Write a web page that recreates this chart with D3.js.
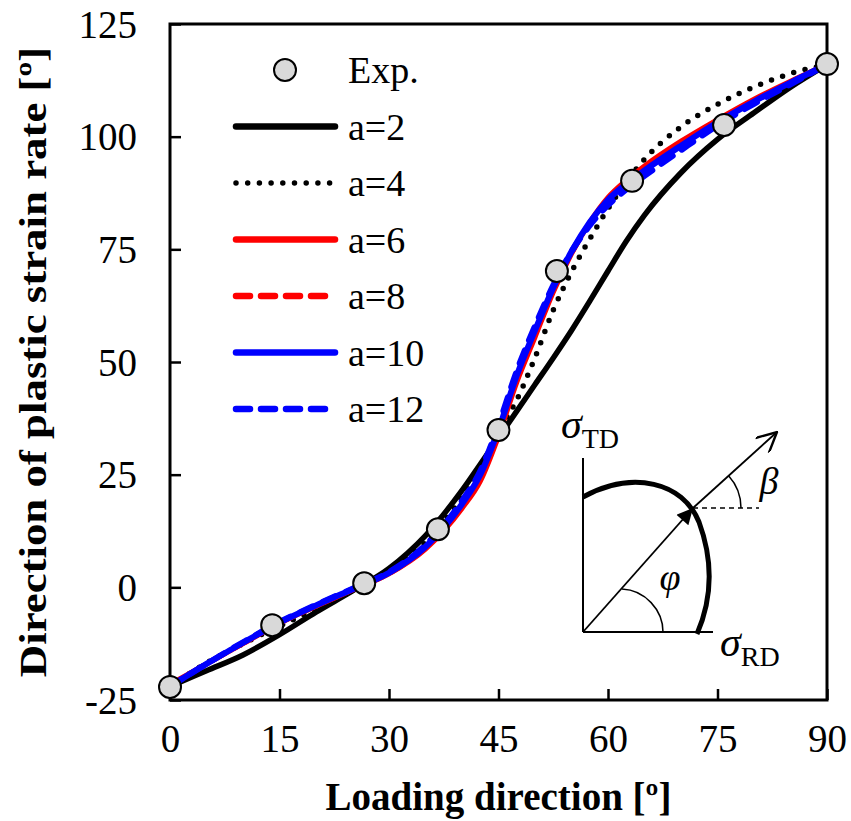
<!DOCTYPE html>
<html>
<head>
<meta charset="utf-8">
<script src="https://cdn.jsdelivr.net/npm/d3@7"></script>
<style>
  body { margin: 0; background: #fff; }
  svg text { font-family: "Liberation Serif", "Times New Roman", serif; fill: #000; }
</style>
</head>
<body>
<div id="chart"></div>
<script>
// loading direction grid used by all model curves
var angles = [0, 5, 10, 15, 20, 25, 30, 35, 40, 42.5, 45, 47.5, 50, 52.5, 55, 57.5, 60, 62.5, 65, 70, 75, 80, 85, 90];

var a2  = [-22, -18.5, -15, -10.5, -5.5, -0.8, 4.2, 11.5, 21.5, 27.3, 33.2, 39.1, 45, 50.9, 57, 63.5, 70.2, 76.8, 82.6, 92, 99.4, 105.3, 111, 116];
var a4  = [-22, -16.8, -12.5, -8.6, -4.8, -0.8, 3.5, 10, 20, 26.5, 34.5, 41.6, 51, 61.5, 70, 77.3, 84, 90, 95, 102.2, 107.2, 111, 114, 116];
var a6  = [-21.5, -17, -12.5, -8, -4.2, -0.6, 3, 8.5, 17.5, 23.5, 33.5, 45.5, 55.5, 65.5, 74, 81, 86.5, 90.3, 93.5, 99, 103.8, 108.3, 112.3, 116];
var a8  = [-21.8, -17, -12.4, -7.9, -4.1, -0.5, 3.1, 8.8, 18, 24.3, 34.3, 46.3, 56.3, 66, 74.2, 80.8, 86, 89.8, 93, 98.5, 103.4, 108, 112.1, 116];
var a10 = [-22, -17, -12.3, -7.8, -4, -0.4, 3.2, 9, 18.5, 25, 35, 47, 57, 66.5, 74.5, 81, 86, 89.5, 92.5, 98, 103.2, 107.8, 112, 116];
var a12 = [-22, -17, -12.2, -7.7, -3.9, -0.3, 3.4, 9.4, 19.2, 25.8, 36, 48, 58, 67, 74.5, 80.3, 84.8, 88.3, 91.3, 97, 102.5, 107.3, 111.6, 116];

// experiments
var expAngle = [0, 14, 26.6, 36.7, 45, 53, 63.3, 75.9, 90];
var expValue = [-22.1, -8.4, 0.9, 12.9, 34.9, 70.2, 90.2, 102.6, 116.1];

var xTicks = [0, 15, 30, 45, 60, 75, 90];
var yTicks = [-25, 0, 25, 50, 75, 100, 125];

var seriesNames = ["a=2", "a=4", "a=6", "a=8", "a=10", "a=12"];
var seriesValues = [a2, a4, a6, a8, a10, a12];
var seriesStyle = [
  {color: "#000", width: 5.5, dash: null},
  {color: "#000", width: 5.5, dash: "0 11.7"},
  {color: "#ff0000", width: 5, dash: null},
  {color: "#ff0000", width: 5.5, dash: "14 11"},
  {color: "#0000ff", width: 6, dash: null},
  {color: "#0000ff", width: 6, dash: "14 11"}
];

var W = 851, H = 821;
var margin = {left: 170, right: 827, top: 24, bottom: 700};

var svg = d3.select("#chart").append("svg")
  .attr("width", W).attr("height", H);

var x = d3.scaleLinear().domain([0, 90]).range([margin.left, margin.right]);
var y = d3.scaleLinear().domain([-25, 125]).range([margin.bottom, margin.top]);

// frame
svg.append("rect")
  .attr("x", margin.left).attr("y", margin.top)
  .attr("width", margin.right - margin.left).attr("height", margin.bottom - margin.top)
  .attr("fill", "none").attr("stroke", "#000").attr("stroke-width", 3);

// axes with inside ticks
var plain = function(d) { return String(d); };
var xAxis = svg.append("g").attr("transform", "translate(0," + margin.bottom + ")")
  .call(d3.axisBottom(x).tickValues(xTicks).tickFormat(plain).tickSizeInner(-11).tickSizeOuter(0).tickPadding(24));
var yAxis = svg.append("g").attr("transform", "translate(" + margin.left + ",0)")
  .call(d3.axisLeft(y).tickValues(yTicks).tickFormat(plain).tickSizeInner(-11).tickSizeOuter(0).tickPadding(33));
[xAxis, yAxis].forEach(function(g) {
  g.select(".domain").remove();
  g.selectAll(".tick line").attr("stroke", "#000").attr("stroke-width", 2.5);
  g.selectAll(".tick text")
    .style("font-family", '"Liberation Serif", serif')
    .style("font-size", "39px").attr("fill", "#000");
});
xAxis.selectAll(".tick text").attr("dy", "0.71em");
yAxis.selectAll(".tick text").attr("dy", "0.34em");

// axis titles
svg.append("text")
  .attr("x", (margin.left + margin.right) / 2).attr("y", 810)
  .attr("text-anchor", "middle")
  .style("font-size", "39px").style("font-weight", "bold")
  .text("Loading direction [º]");
svg.append("text")
  .attr("transform", "translate(46," + (margin.top + margin.bottom) / 2 + ") rotate(-90) scale(1.15,1)")
  .attr("text-anchor", "middle")
  .style("font-size", "39px").style("font-weight", "bold")
  .text("Direction of plastic strain rate [º]");

// model curves
var line = d3.line()
  .x(function(d) { return x(d[0]); })
  .y(function(d) { return y(d[1]); })
  .curve(d3.curveMonotoneX);

seriesValues.forEach(function(vals, i) {
  var st = seriesStyle[i];
  svg.append("path")
    .datum(angles.map(function(a, k) { return [a, vals[k]]; }))
    .attr("d", line)
    .attr("fill", "none")
    .attr("stroke", st.color)
    .attr("stroke-width", st.width)
    .attr("stroke-linecap", "round")
    .attr("stroke-linejoin", "round")
    .attr("stroke-dasharray", st.dash);
});

// experimental points
svg.selectAll("circle.exp")
  .data(expAngle.map(function(a, k) { return [a, expValue[k]]; }))
  .enter().append("circle")
  .attr("class", "exp")
  .attr("cx", function(d) { return x(d[0]); })
  .attr("cy", function(d) { return y(d[1]); })
  .attr("r", 11)
  .attr("fill", "#d9d9d9").attr("stroke", "#000").attr("stroke-width", 2);

// legend
var lg = svg.append("g").attr("transform", "translate(233,70)");
var rowH = 56.5;
lg.append("circle").attr("cx", 52).attr("cy", 0).attr("r", 11)
  .attr("fill", "#d9d9d9").attr("stroke", "#000").attr("stroke-width", 2);
lg.append("text").attr("x", 115).attr("y", 13).style("font-size", "38px").text("Exp.");
seriesNames.forEach(function(name, i) {
  var st = seriesStyle[i];
  var yy = (i + 1) * rowH;
  lg.append("line")
    .attr("x1", 3).attr("x2", 102).attr("y1", yy).attr("y2", yy)
    .attr("stroke", st.color)
    .attr("stroke-width", i === 1 ? 5.5 : 6.5)
    .attr("stroke-linecap", "round")
    .attr("stroke-dasharray", st.dash);
  lg.append("text").attr("x", 115).attr("y", yy + 13).style("font-size", "38px").text(name);
});

// inset: yield locus sketch
var O = [583, 632];
var ins = svg.append("g").attr("transform", "translate(" + O[0] + "," + O[1] + ")");
var defs = svg.append("defs");
defs.append("marker").attr("id", "solidHead")
  .attr("viewBox", "0 0 10 10").attr("refX", 10).attr("refY", 5)
  .attr("markerWidth", 20).attr("markerHeight", 16).attr("markerUnits", "userSpaceOnUse")
  .attr("orient", "auto")
  .append("path").attr("d", "M0,0 L10,5 L0,10 Z").attr("fill", "#000");
defs.append("marker").attr("id", "openHead")
  .attr("viewBox", "0 0 10 10").attr("refX", 10).attr("refY", 5)
  .attr("markerWidth", 22).attr("markerHeight", 20).attr("markerUnits", "userSpaceOnUse")
  .attr("orient", "auto")
  .append("path").attr("d", "M0,0 L10,5 L0,10").attr("fill", "none").attr("stroke", "#000").attr("stroke-width", 1.2);

ins.append("line").attr("x1", 0).attr("y1", -174).attr("x2", 0).attr("y2", 0)
  .attr("stroke", "#000").attr("stroke-width", 2);
ins.append("line").attr("x1", 0).attr("y1", 0).attr("x2", 130).attr("y2", 0)
  .attr("stroke", "#000").attr("stroke-width", 2);
// locus
ins.append("path")
  .attr("d", "M0,-135 C50,-162 100,-150 116,-110 C130,-72 130,-35 114,2")
  .attr("fill", "none").attr("stroke", "#000").attr("stroke-width", 5);
// loading arrow
var P = [110, -124];
ins.append("line").attr("x1", 0).attr("y1", 0).attr("x2", P[0]).attr("y2", P[1])
  .attr("stroke", "#000").attr("stroke-width", 1.8).attr("marker-end", "url(#solidHead)");
ins.append("line").attr("x1", P[0]).attr("y1", P[1]).attr("x2", 194).attr("y2", -200)
  .attr("stroke", "#000").attr("stroke-width", 1.8).attr("marker-end", "url(#openHead)");
ins.append("line").attr("x1", P[0]).attr("y1", P[1]).attr("x2", 176).attr("y2", P[1])
  .attr("stroke", "#000").attr("stroke-width", 1.5).attr("stroke-dasharray", "5 4");
// beta arc
var rb = 48, ab = Math.atan2(76, 84);
ins.append("path")
  .attr("d", "M" + (P[0] + rb * Math.cos(ab)) + "," + (P[1] - rb * Math.sin(ab)) +
    " A" + rb + "," + rb + " 0 0 1 " + (P[0] + rb) + "," + P[1])
  .attr("fill", "none").attr("stroke", "#000").attr("stroke-width", 1.5);
// phi arc
ins.append("path")
  .attr("d", "M80,0 C80,-22 62,-42 39,-43")
  .attr("fill", "none").attr("stroke", "#000").attr("stroke-width", 1.5);

function sigma(xx, yy, sub) {
  var t = svg.append("text").attr("x", xx).attr("y", yy);
  t.append("tspan").style("font-size", "42px").style("font-style", "italic").text("σ");
  t.append("tspan").attr("dy", 10).style("font-size", "28px").text(sub);
}
sigma(561, 438, "TD");
sigma(720, 656, "RD");
svg.append("text").attr("x", 670).attr("y", 590).attr("text-anchor", "middle")
  .style("font-size", "38px").style("font-style", "italic").text("φ");
svg.append("text").attr("x", 769).attr("y", 494).attr("text-anchor", "middle")
  .style("font-size", "38px").style("font-style", "italic").text("β");
</script>
</body>
</html>
